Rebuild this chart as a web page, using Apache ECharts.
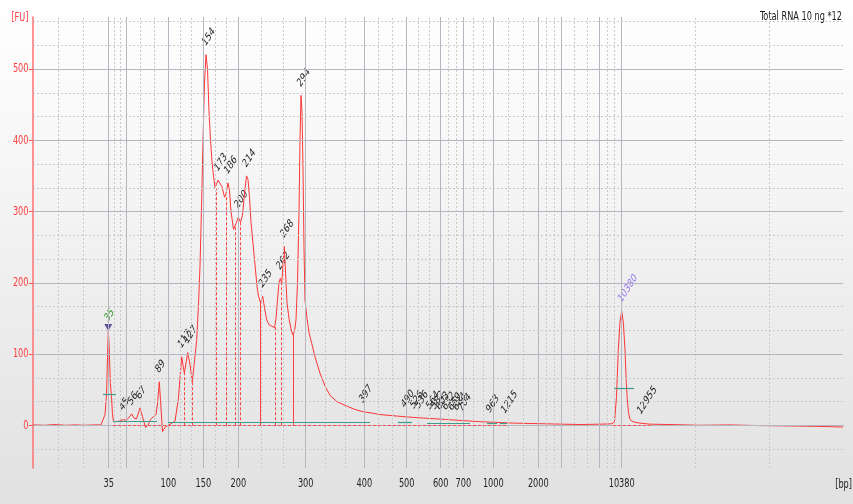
<!DOCTYPE html>
<html><head><meta charset="utf-8">
<script src="https://cdn.jsdelivr.net/npm/echarts@6/dist/echarts.min.js"></script>
<style>html,body{margin:0;padding:0;background:#fff}#c{width:853px;height:504px}</style>
</head><body><div id="c"></div>
<script>
// ---- data ----
// ladder sizes (bp) and their migration times (s)
const ladderBp   = [35, 50, 100, 150, 200, 300, 400, 500, 600, 700, 1000, 2000, 3000, 7000, 10380];
const ladderTime = [27.57, 29.37, 33.53, 37.03, 40.53, 47.27, 53.13, 57.37, 60.77, 63.03, 66.03, 70.53, 72.87, 76.63, 78.87];
const labeledBp  = [35, 100, 150, 200, 300, 400, 500, 600, 700, 1000, 2000, 10380];
const yTicks     = [0, 100, 200, 300, 400, 500];

// electropherogram trace: time (s) and fluorescence (FU)
const traceTime = [20.00,21.20,22.20,23.20,24.20,25.20,26.20,26.80,27.00,27.20,27.35,27.45,27.53,27.62,27.73,27.85,27.95,28.05,28.30,28.70,
  29.03,29.30,29.55,29.87,30.10,30.35,30.70,30.95,31.25,31.50,31.75,32.03,32.30,32.45,32.63,32.75,32.95,33.20,33.53,33.90,
  34.20,34.53,34.87,35.13,35.47,35.70,35.93,36.15,36.37,36.55,36.70,36.87,37.00,37.15,37.30,37.45,37.60,37.75,37.90,38.05,
  38.20,38.35,38.50,38.70,38.90,39.15,39.30,39.50,39.65,39.80,40.05,40.30,40.53,40.75,40.95,41.15,41.35,41.50,41.65,41.80,
  42.00,42.20,42.40,42.55,42.75,42.97,43.15,43.37,43.60,43.87,44.15,44.30,44.45,44.60,44.73,44.87,45.00,45.13,45.25,45.40,
  45.60,45.80,45.97,46.15,46.30,46.45,46.60,46.70,46.80,46.90,47.00,47.10,47.20,47.40,47.60,47.87,48.20,48.70,49.20,49.70,
  50.40,51.37,52.20,53.03,53.90,54.70,56.30,58.03,59.70,61.37,63.00,64.70,66.40,68.03,69.70,71.37,73.00,74.70,76.70,77.90,
  78.15,78.35,78.53,78.70,78.87,79.03,79.20,79.33,79.43,79.55,79.70,80.00,80.30,80.70,81.70,83.70,86.70,89.70,92.70,95.70,
  98.20,99.70,101.00];
const traceFU = [0.5,0,1,0,0.5,0,0.5,0.5,3,15,43,95,133,110,60,40,15,5,5,6,
  8,7,10,16,10,9,24,12,-3,0,8,12,15,30,61,35,-9,-3,0,3,
  6,36,96,73,102,85,61,90,120,170,223,316,400,480,520,500,440,400,370,350,
  333,332,344,342,335,320,325,340,330,300,275,283,292,285,295,325,350,345,320,285,
  255,225,195,181,172,181,165,148,141,139,137,150,176,200,206,199,225,251,215,172,
  150,135,127,132,148,200,300,400,463,440,360,250,176,150,130,115,96,73,55,42,
  33,27,22,19,17,15,13,11,9.5,8,6.5,5,4,3,2.5,2,1.5,1,1.5,2,
  5,40,106,145,160,145,106,60,36,18,8,5,4,3,1.5,1,0,0.5,-0.5,-1,
  -1.5,-2,-2.5];

// called peaks: size label, time (s), height (FU)
const peakLabel = ['35','45','56','67','89','117','127','154','173','186','200','214','235','262','268','294','397',
  '490','526','536','564','582','603','632','659','684','704','963','1215','10380','12955'];
const peakTime = [27.53,29.00,29.87,30.70,32.63,34.87,35.47,37.30,38.50,39.50,40.53,41.35,42.97,44.73,45.13,46.80,53.00,
  57.20,58.10,58.60,59.70,60.20,60.70,61.30,61.90,62.40,62.90,65.70,67.20,78.87,80.80];
const peakFU = [133,8,16,24,61,96,102,520,344,340,292,350,181,206,251,463,19,
  12,11,11,10,10,9,9,8,8,7,5,4,160,3];

// peak start/end marker lines: time (s), height (FU), solid?
const markTime  = [35.13,35.97,38.37,39.37,40.20,40.70,42.70,44.20,44.87,46.03];
const markFU    = [73,65,332,322,280,286,173,138,199,128];
const markSolid = [false,false,false,false,false,false,true,false,false,true];

// baseline / region segments: [start s, end s, FU]
const regionSegs = [[28.0,32.4,5],[33.5,53.7,4.5],[56.5,57.9,4],[59.4,63.7,3],[65.4,66.4,3],[66.7,67.4,3]];
const halfHeightSegs = [[27.0,28.3,43],[78.13,80.1,52]];
const baselineSegs = [[28.0,67.4,0],[78.0,81.7,0]];

// ---- chart ----
const FONT = '"DejaVu Sans Condensed","Liberation Sans",sans-serif';
const SQ = 0.7; // horizontal squeeze of the reference's lettering
const X_MIN = 20, X_MAX = 101, Y_MIN = -60, Y_MAX = 573;

const trace = traceTime.map((t, i) => [t, traceFU[i]]);
const labeledTime = ladderTime.filter((t, i) => labeledBp.includes(ladderBp[i]));

function bpForTime(v) {
  let best = 0;
  for (let i = 1; i < ladderTime.length; i++)
    if (Math.abs(ladderTime[i] - v) < Math.abs(ladderTime[best] - v)) best = i;
  return ladderBp[best];
}

// grid lines
const solidStyle = { color: '#b6b6c0', type: 'solid', width: 1 };
const dashStyle = { color: '#c9c9c9', type: [2, 2], width: 1 };
const gridLines = [];
ladderTime.forEach(t => gridLines.push({ xAxis: t, lineStyle: solidStyle }));
const edges = [X_MIN].concat(ladderTime, [X_MAX]);
for (let i = 0; i < edges.length - 1; i++) {
  const a = edges[i], b = edges[i + 1];
  gridLines.push({ xAxis: a + (b - a) / 3, lineStyle: dashStyle });
  gridLines.push({ xAxis: a + 2 * (b - a) / 3, lineStyle: dashStyle });
}
yTicks.forEach(v => gridLines.push({ yAxis: v, lineStyle: solidStyle }));
for (let k = -1; k <= 17; k++) {
  if (k % 3 === 0) continue;
  gridLines.push({ yAxis: k * 100 / 3, lineStyle: dashStyle });
}

const markerLines = markTime.map((t, i) => [
  { coord: [t, 0], lineStyle: { color: '#ff4040', width: 1, type: markSolid[i] ? 'solid' : [3, 2] } },
  { coord: [t, markFU[i]] }
]);
const segLines = [];
regionSegs.forEach(s => segLines.push([{ coord: [s[0], s[2]], lineStyle: { color: '#3f9c8c', width: 1.2, type: 'solid' } }, { coord: [s[1], s[2]] }]));
halfHeightSegs.forEach(s => segLines.push([{ coord: [s[0], s[2]], lineStyle: { color: '#3f9c8c', width: 1.2, type: 'solid' } }, { coord: [s[1], s[2]] }]));
baselineSegs.forEach(s => segLines.push([{ coord: [s[0], s[2]], lineStyle: { color: '#ff5050', width: 1, type: [3, 2] } }, { coord: [s[1], s[2]] }]));

const labelColor = lbl => lbl === '35' ? '#2f9a20' : (lbl === '10380' ? '#9575f0' : '#1e1e1e');

const chart = echarts.init(document.getElementById('c'), null, { renderer: 'canvas' });
chart.setOption({
  animation: false,
  backgroundColor: new echarts.graphic.LinearGradient(0, 0, 0, 1, [
    { offset: 0, color: '#ffffff' }, { offset: 0.3, color: '#f7f7f7' }, { offset: 1, color: '#e1e1e1' }
  ]),
  grid: { left: 33, right: 10, top: 17, bottom: 36, containLabel: false },
  xAxis: {
    type: 'value', min: X_MIN, max: X_MAX,
    axisLine: { show: true, lineStyle: { color: '#2b2b2b', width: 1 } },
    axisTick: { show: true, customValues: ladderTime, length: 4, lineStyle: { color: '#2b2b2b' } },
    axisLabel: { show: false },
    splitLine: { show: false }
  },
  yAxis: {
    type: 'value', min: Y_MIN, max: Y_MAX,
    axisLine: { show: true, lineStyle: { color: '#ff7070', width: 1.5 } },
    axisTick: { show: true, customValues: yTicks, length: 4, lineStyle: { color: '#ff5050' } },
    axisLabel: { show: false },
    splitLine: { show: false }
  },
  series: [
    {
      name: 'grid', type: 'line', data: [], z: 1, silent: true,
      markLine: { silent: true, symbol: ['none', 'none'], label: { show: false }, animation: false, data: gridLines }
    },
    {
      name: 'marks', type: 'line', data: [], z: 2, silent: true,
      markLine: { silent: true, symbol: ['none', 'none'], label: { show: false }, animation: false, data: markerLines.concat(segLines) }
    },
    {
      name: 'trace', type: 'line', data: trace, z: 3, showSymbol: false, smooth: false,
      lineStyle: { color: '#ff3535', width: 1 }, silent: true
    },
    {
      name: 'ladderMarker', type: 'scatter', z: 4, data: [[peakTime[0], peakFU[0]]],
      symbol: 'triangle', symbolRotate: 180, symbolSize: [8, 7], symbolOffset: [0, -3],
      itemStyle: { color: '#3b2c86' }, silent: true
    }
  ]
});

// text placed through the chart's own scales (squeezed lettering like the reference)
const toPx = (x, y) => chart.convertToPixel({ gridIndex: 0 }, [x, y]);
const txt = (x, y, text, fill, size, align, vAlign, extra) => Object.assign({
  type: 'text', x: x / SQ, y: y,
  style: { text: text, fill: fill, font: size + 'px ' + FONT, align: align, verticalAlign: vAlign }
}, extra || {});
const squeezed = [];
labeledTime.forEach(t => {
  const p = toPx(t, 0);
  squeezed.push(txt(p[0], 483.5, String(bpForTime(t)), '#222', 13, 'center', 'middle'));
});
yTicks.forEach(v => {
  const p = toPx(X_MIN, v);
  squeezed.push(txt(28.5, p[1], String(v), '#ff3c3c', 13, 'right', 'middle'));
});
squeezed.push(txt(28.5, 18, '[FU]', '#ff3c3c', 13, 'right', 'middle'));
squeezed.push(txt(852, 484.5, '[bp]', '#222', 13, 'right', 'middle'));
squeezed.push(txt(842, 17, 'Total RNA 10 ng *12', '#1a1a1a', 13, 'right', 'middle'));
peakTime.forEach((t, i) => {
  const p = toPx(t, peakFU[i]);
  squeezed.push(txt(p[0] + 1, p[1] - 6, peakLabel[i], labelColor(peakLabel[i]), 12, 'left', 'bottom',
    { rotation: 47 * Math.PI / 180 }));
});
chart.setOption({ graphic: [{ type: 'group', x: 0, y: 0, scaleX: SQ, z: 10, silent: true, children: squeezed }] });
</script></body></html>
